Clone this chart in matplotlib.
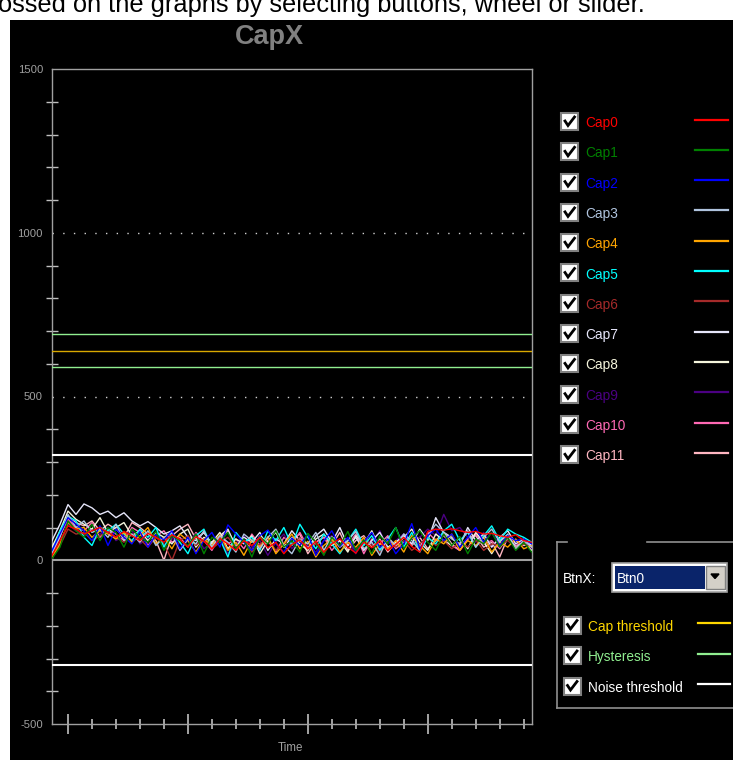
import numpy as np
import matplotlib
matplotlib.use('Agg')
import matplotlib.pyplot as plt
from matplotlib.patches import Rectangle, Polygon
from matplotlib.lines import Line2D

# ---------------- data ----------------
cap_names = ['Cap0', 'Cap1', 'Cap2', 'Cap3', 'Cap4', 'Cap5',
             'Cap6', 'Cap7', 'Cap8', 'Cap9', 'Cap10', 'Cap11']
cap_colors = ['#ff0000', '#008000', '#0000ff', '#b0c4de', '#ffa500', '#00ffff',
              '#a52a2a', '#e6e6fa', '#f5f5dc', '#4b0082', '#ff69b4', '#ffb6c1']

cap0 = [15, 60, 105, 95, 80, 90, 100, 85, 70, 88, 75, 60, 82, 70, 55, 78, 64, 40, 72, 58,
        35, 66, 50, 30, 60, 45, 70, 38, 55, 20, 48, 62, 35, 58, 25, 50, 66, 40, 22, 55,
        38, 60, 30, 48, 70, 42, 25, 88, 95, 92, 96, 90, 85, 88, 80, 82, 75, 70, 78, 60, 55]
cap1 = [5, 40, 120, 90, 70, 110, 60, 100, 85, 40, 95, 70, 55, 88, 30, 75, 60, 45, 80, 20,
        70, 55, 85, 35, 65, 10, 72, 50, 90, 40, 60, 25, 82, 55, 15, 70, 45, 88, 30, 62,
        20, 75, 50, 100, 35, 68, 90, 55, 30, 80, 45, 72, 20, 65, 50, 85, 40, 70, 30, 55, 25]
cap2 = [30, 80, 130, 110, 90, 60, 105, 45, 95, 70, 50, 88, 40, 78, 62, 90, 35, 70, 20, 60,
        85, 40, 108, 80, 55, 30, 75, 92, 50, 25, 68, 45, 80, 15, 60, 90, 42, 70, 28, 55,
        85, 38, 65, 20, 50, 112, 35, 75, 95, 60, 80, 40, 70, 100, 55, 85, 45, 75, 60, 65, 50]
cap3 = [20, 70, 140, 100, 120, 85, 95, 70, 110, 60, 80, 55, 90, 45, 70, 85, 30, 65, 50, 90,
        40, 75, 55, 25, 80, 60, 35, 70, 95, 45, 20, 65, 50, 85, 30, 72, 40, 60, 88, 35,
        55, 15, 70, 45, 80, 60, 30, 75, 110, 85, 65, 50, 90, 40, 70, 95, 55, 80, 35, 60, 40]
cap4 = [10, 50, 115, 95, 100, 70, 90, 80, 65, 85, 55, 75, 100, 50, 70, 35, 80, 60, 25, 65,
        45, 78, 30, 55, 15, 62, 40, 72, 20, 50, 80, 35, 58, 10, 45, 65, 25, 55, 40, 70,
        15, 50, 35, 60, 25, 75, 45, 20, 65, 50, 80, 30, 60, 45, 70, 25, 55, 40, 65, 35, 45]
cap5 = [25, 90, 135, 120, 70, 45, 100, 90, 110, 80, 60, 95, 70, 100, 40, 85, 55, 20, 75, 95,
        40, 65, 10, 85, 55, 70, 30, 90, 60, 100, 45, 110, 70, 35, 80, 50, 20, 60, 95, 45,
        75, 30, 65, 100, 40, 85, 25, 70, 50, 90, 110, 60, 85, 40, 75, 105, 60, 95, 80, 70, 55]
cap6 = [5, 45, 95, 80, 85, 60, 75, 90, 70, 55, 80, 65, 40, 70, 50, 0, 60, 75, 45, 65,
        35, 55, 70, 40, 60, 25, 50, 65, 30, 55, 45, 70, 35, 50, 20, 60, 40, 55, 30, 65,
        45, 25, 58, 40, 60, 30, 50, 70, 45, 60, 35, 55, 40, 62, 30, 50, 45, 60, 38, 50, 40]
cap7 = [60, 110, 170, 140, 172, 160, 140, 150, 130, 145, 120, 105, 118, 100, 80, 90, 105, 70, 60, 85,
        50, 75, 95, 40, 70, 55, 85, 30, 65, 50, 90, 60, 35, 75, 95, 55, 100, 45, 70, 30,
        60, 85, 40, 55, 75, 50, 95, 60, 130, 85, 70, 45, 100, 60, 80, 40, 70, 90, 50, 65, 45]
cap8 = [40, 90, 150, 125, 110, 95, 130, 85, 100, 115, 75, 90, 60, 85, 70, 50, 80, 95, 40, 70,
        55, 85, 35, 65, 50, 75, 20, 60, 85, 40, 70, 50, 30, 65, 80, 45, 60, 25, 75, 50,
        90, 35, 60, 40, 70, 95, 55, 30, 80, 60, 45, 70, 35, 85, 55, 20, 60, 75, 40, 55, 30]
cap9 = [15, 55, 110, 90, 75, 95, 80, 100, 60, 75, 90, 50, 65, 80, 45, 70, 30, 60, 80, 35,
        55, 70, 20, 50, 75, 40, 60, 15, 55, 80, 35, 65, 45, 25, 60, 75, 40, 55, 20, 70,
        50, 90, 35, 60, 80, 50, 70, 95, 75, 140, 90, 100, 70, 55, 85, 40, 65, 75, 50, 60, 35]
cap10 = [20, 75, 125, 100, 90, 115, 70, 95, 80, 60, 100, 85, 45, 75, 90, 55, 70, 40, 85, 60,
         30, 75, 50, 65, 35, 80, 45, 60, 25, 70, 50, 85, 40, 55, 70, 30, 60, 45, 80, 20,
         65, 50, 75, 35, 55, 70, 40, 85, 60, 75, 45, 30, 65, 80, 50, 60, 35, 70, 45, 55, 40]
cap11 = [35, 85, 130, 115, 105, 120, 90, 110, 95, 70, 115, 100, 80, 60, 0, 75, 95, 110, 65, 85,
         50, 70, 90, 45, 60, 30, 75, 55, 90, 40, 65, 80, 20, 55, 70, 45, 85, 30, 60, 75,
         40, 65, 25, 55, 80, 45, 70, 35, 60, 85, 50, 30, 65, 75, 40, 55, 10, 70, 60, 45, 50]
cap_data = [cap0, cap1, cap2, cap3, cap4, cap5, cap6, cap7, cap8, cap9, cap10, cap11]

cap_threshold = 640
hysteresis = 50
noise_threshold = 320

y_labels = [-500, 0, 500, 1000, 1500]
x_major = [2, 17, 32, 47]
x_minor = [2 + 3 * i for i in range(20)]

thr_names = ['Cap threshold', 'Hysteresis', 'Noise threshold']
thr_colors = ['#ffd700', '#90ee90', '#ffffff']

# ---------------- figure ----------------
W, H = 733, 760
plt.rcParams['font.family'] = ['Liberation Sans', 'DejaVu Sans']
plt.rcParams['axes.unicode_minus'] = False
fig = plt.figure(figsize=(W / 100, H / 100), dpi=100, facecolor='white')


def fx(x):
    return x / W


def fy(y):
    return 1 - y / H


def box(x0, y0, x1, y1, **kw):
    r = Rectangle((fx(x0), fy(y1)), fx(x1) - fx(x0), fy(y0) - fy(y1),
                  transform=fig.transFigure, **kw)
    fig.add_artist(r)


def hline(x0, x1, y, **kw):
    fig.add_artist(Line2D([fx(x0), fx(x1)], [fy(y), fy(y)], transform=fig.transFigure, **kw))


def vline(x, y0, y1, **kw):
    fig.add_artist(Line2D([fx(x), fx(x)], [fy(y0), fy(y1)], transform=fig.transFigure, **kw))


def checkbox(xc, yc):
    box(xc - 8.5, yc - 8.5, xc + 8.5, yc + 8.5, facecolor='#ffffff', edgecolor='#808080', lw=1.5, zorder=2)
    fig.add_artist(Line2D([fx(xc - 4.5), fx(xc - 1.5), fx(xc + 5)],
                          [fy(yc - 0.5), fy(yc + 4), fy(yc - 4.5)],
                          transform=fig.transFigure, color='black', lw=2.0, zorder=3,
                          solid_joinstyle='miter'))


# black panel
box(10, 20, W, H, facecolor='black', edgecolor='none', zorder=-1)

# instruction text, cut by the top edge like in the screenshot
fig.text(fx(-2), fy(12), 'ossed on the graphs by selecting buttons, wheel or slider.',
         fontsize=18.3, color='black', va='baseline', ha='left')

# title
fig.text(fx(269), fy(44), 'CapX', ha='center', va='baseline', fontsize=19.5,
         fontweight='bold', color='#808080')

# ---------------- chart ----------------
ax = fig.add_axes([fx(52), fy(724), fx(531.7) - fx(52), fy(69) - fy(724)])
ax.set_facecolor('black')

for i in reversed(range(len(cap_data))):
    vals = cap_data[i]
    ax.plot(np.linspace(0, 60, len(vals)), vals, color=cap_colors[i], lw=1.0, zorder=4)

ax.axhline(0, color='#a0a0a0', lw=1.5, zorder=5)
for v in [500, 1000]:
    ax.axhline(v, color='#d0d0d0', lw=1, ls=(0, (1, 6.7)), zorder=2)
ax.axhline(cap_threshold, color='#d8a800', lw=1, zorder=3)
ax.axhline(cap_threshold + hysteresis, color='#90ee90', lw=1, zorder=3)
ax.axhline(cap_threshold - hysteresis, color='#90ee90', lw=1, zorder=3)
ax.axhline(noise_threshold, color='white', lw=1.5, zorder=3)
ax.axhline(-noise_threshold, color='white', lw=1.5, zorder=3)

ax.set_xlim(0, 60)
ax.set_ylim(-500, 1500)
for s in ax.spines.values():
    s.set_color('#a0a0a0')
    s.set_linewidth(1)

ax.set_yticks(y_labels)
ax.set_yticks(np.arange(-400, 1500, 100), minor=True)
ax.tick_params(axis='y', which='major', length=0, pad=6.5, labelcolor='#a0a0a0', labelsize=8.1)
ax.tick_params(axis='y', which='minor', direction='inout', length=8, width=1, color='#c0c0c0')
ax.set_xticks(x_major)
ax.set_xticks([t for t in x_minor if t not in x_major], minor=True)
ax.tick_params(axis='x', which='major', direction='inout', length=14.4, width=1.2,
               color='#c0c0c0', labelbottom=False)
ax.tick_params(axis='x', which='minor', direction='inout', length=7.2, width=1.2, color='#c0c0c0')

fig.text(fx(290), fy(750.7), 'Time', ha='center', va='baseline', fontsize=8.4, color='#a0a0a0')

# ---------------- legend panel ----------------
for i, name in enumerate(cap_names):
    yc = 121.5 + 30.3 * i
    checkbox(569.5, yc)
    fig.text(fx(585.5), fy(yc + 5.5), name, color=cap_colors[i], fontsize=9.8,
             ha='left', va='baseline')
    hline(695, 728, yc - 2, color=cap_colors[i], lw=1.6)

# group box
gb = dict(color='#909090', lw=1.2)
hline(557, 567, 541.7, **gb)
hline(647, W, 541.7, **gb)
vline(557, 541.7, 708, **gb)
hline(557, W, 708, **gb)

fig.text(fx(563), fy(583), 'BtnX:', color='white', fontsize=9.8, ha='left', va='baseline')
box(612, 563, 727, 591.5, facecolor='#ffffff', edgecolor='#a0a0a0', lw=1.2)
box(614.5, 566, 704.5, 588.5, facecolor='#0a246a', edgecolor='none')
fig.text(fx(617), fy(583), 'Btn0', color='white', fontsize=9.8, ha='left', va='baseline')
box(705.5, 566, 725, 588.5, facecolor='#d4d0c8', edgecolor='#808080', lw=1)
fig.add_artist(Polygon([[fx(711), fy(574)], [fx(719), fy(574)], [fx(715), fy(578.5)]],
                       closed=True, transform=fig.transFigure, facecolor='black', edgecolor='black'))

for i, name in enumerate(thr_names):
    yc = 625 + 30.5 * i
    checkbox(572, yc)
    fig.text(fx(588), fy(yc + 5.5), name, color=thr_colors[i], fontsize=9.8,
             ha='left', va='baseline')
    hline(698, 730, yc - 2, color=thr_colors[i], lw=1.6)

fig.savefig('out.png', dpi=100, facecolor='white')
